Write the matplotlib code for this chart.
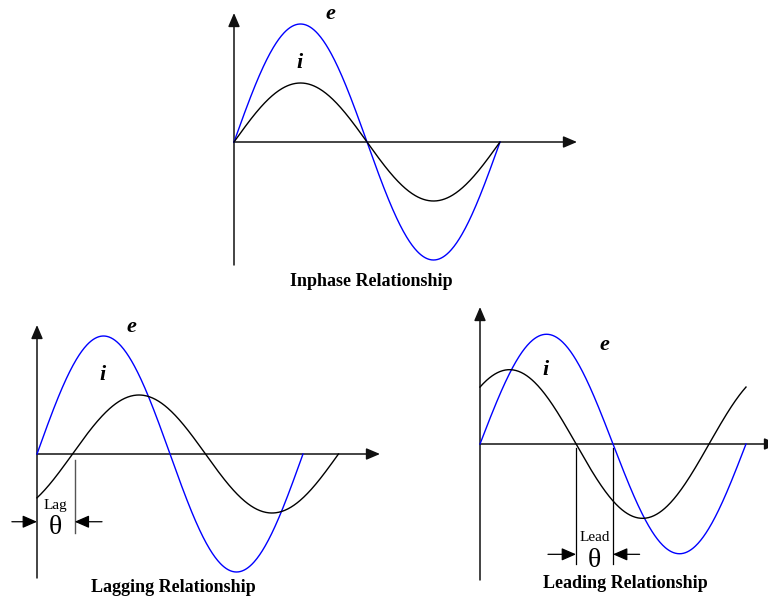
import numpy as np
import matplotlib
matplotlib.use('Agg')
import matplotlib.pyplot as plt

# Wave parameters (amplitudes relative to the in-phase voltage, phase in degrees)
e_amp = [1.0, 1.0, 0.93]          # inphase, lagging, leading
i_amp = [0.50, 0.50, 0.63]
i_phase = [0, -48, 50]            # current phase relative to e
titles = ['Inphase Relationship', 'Lagging Relationship', 'Leading Relationship']

W, H = 768, 604
PX_DEG = 266 / 360.0   # pixels per degree
PX_UNIT = 118.0        # pixels per amplitude unit

plt.rcParams['font.family'] = ['Liberation Serif', 'DejaVu Serif']
fig = plt.figure(figsize=(W / 100, H / 100), dpi=100)

AX_KW = dict(arrowstyle='-|>,head_length=0.75,head_width=0.32', mutation_scale=11,
             color='#111111', lw=1.1, shrinkA=0, shrinkB=0)


def add_panel(ox, oy, right_px, top_px, bottom_px):
    ax = fig.add_axes([ox / W, 1 - bottom_px / H, (right_px - ox) / W,
                       (bottom_px - top_px) / H])
    xmax = (right_px - ox) / PX_DEG
    ytop = (oy - top_px) / PX_UNIT
    ybot = -(bottom_px - oy) / PX_UNIT
    ax.set_xlim(0, xmax)
    ax.set_ylim(ybot, ytop)
    ax.axis('off')
    ax.annotate('', xy=(0, ytop), xytext=(0, ybot), arrowprops=AX_KW,
                annotation_clip=False)
    ax.annotate('', xy=(xmax, 0), xytext=(0, 0), arrowprops=AX_KW,
                annotation_clip=False)
    return ax


def draw_waves(ax, k, i_end):
    t = np.linspace(0, 360, 400)
    ax.plot(t, e_amp[k] * np.sin(np.radians(t)), color='#0000ff', lw=1.0,
            clip_on=False, zorder=3)
    ti = np.linspace(0, i_end, 400)
    ax.plot(ti, i_amp[k] * np.sin(np.radians(ti + i_phase[k])), color='black',
            lw=1.0, clip_on=False, zorder=3)


def label(ax, x, y, s, size=16):
    ax.text(x, y, s, fontsize=size, fontweight='bold', fontstyle='italic',
            ha='center', va='center', clip_on=False)


def theta_marker(ax, x1, x2, y, word, left_from, right_from):
    akw = dict(arrowstyle='-|>,head_length=0.8,head_width=0.35', mutation_scale=11,
               color='black', lw=0.9, shrinkA=0, shrinkB=0)
    ax.annotate('', xy=(x1, y), xytext=(left_from, y), arrowprops=akw,
                annotation_clip=False)
    ax.annotate('', xy=(x2, y), xytext=(right_from, y), arrowprops=akw,
                annotation_clip=False)
    xc = (x1 + x2) / 2
    ax.text(xc, y + 0.14, word, fontsize=11, ha='center', va='center')
    ax.text(xc, y - 0.05, 'θ', fontsize=20, ha='center', va='center')


# Inphase
ax1 = add_panel(234, 142, 577, 13, 265)
draw_waves(ax1, 0, 360)
label(ax1, 130, 1.085, 'e')
label(ax1, 88, 0.67, 'i')

# Lagging
ax2 = add_panel(37, 454, 380, 325, 578)
lag = -i_phase[1]
draw_waves(ax2, 1, 360 + lag)
label(ax2, 128, 1.08, 'e')
label(ax2, 88, 0.67, 'i')
ax2.plot([lag + 3, lag + 3], [-0.05, -0.67], color='#555555', lw=1.0, clip_on=False)
theta_marker(ax2, 0, lag + 3, -0.574, 'Lag', -34, 88)

# Leading
ax3 = add_panel(480, 444, 778, 307, 580)
lead = i_phase[2]
draw_waves(ax3, 2, 360)
label(ax3, 169, 0.84, 'e')
label(ax3, 88, 0.63, 'i')
for xv in [180 - lead, 180]:
    ax3.plot([xv, xv], [-0.03, -1.02], color='black', lw=0.9, clip_on=False)
theta_marker(ax3, 180 - lead, 180, -0.935, 'Lead', 92, 216)

# Titles
fig.text(371.7 / W, 1 - 281.7 / H, titles[0], fontsize=13, fontweight='bold',
         ha='center', va='center')
fig.text(173 / W, 1 - 588 / H, titles[1], fontsize=13, fontweight='bold',
         ha='center', va='center')
fig.text(625 / W, 1 - 583 / H, titles[2], fontsize=13, fontweight='bold',
         ha='center', va='center')

fig.savefig('out.png', dpi=100, facecolor='white')
